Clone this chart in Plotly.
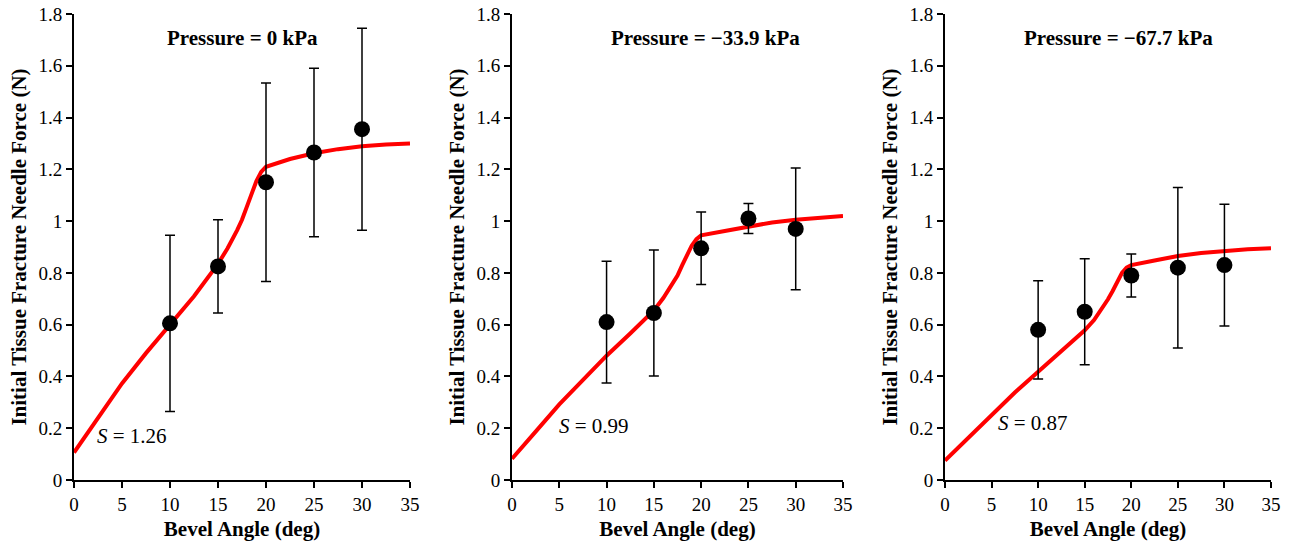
import plotly.graph_objects as go
from plotly.subplots import make_subplots

# measured points (mean +/- sd) per panel
bevel = [10, 15, 20, 25, 30]

force_0 = [0.605, 0.825, 1.15, 1.265, 1.355]
err_0 = [0.34, 0.18, 0.383, 0.325, 0.39]

force_339 = [0.61, 0.645, 0.895, 1.01, 0.97]
err_339 = [0.235, 0.243, 0.14, 0.058, 0.235]

force_677 = [0.58, 0.65, 0.79, 0.82, 0.83]
err_677 = [0.19, 0.205, 0.083, 0.31, 0.235]

# model curves
model_x = [0, 1, 2.5, 5, 7.5, 10, 12.5, 15, 16, 17, 17.5, 18, 18.5, 19, 19.5, 20,
           22.5, 25, 27.5, 30, 32.5, 35]
model_0 = [0.106, 0.16, 0.24, 0.373, 0.49, 0.60, 0.71, 0.835, 0.895, 0.965, 1.005, 1.055, 1.105,
           1.155, 1.19, 1.21, 1.24, 1.262, 1.278, 1.289, 1.296, 1.30]
model_339 = [0.082, 0.122, 0.187, 0.292, 0.387, 0.48, 0.566, 0.655, 0.703, 0.758, 0.79, 0.83, 0.868,
             0.905, 0.93, 0.945, 0.962, 0.98, 0.995, 1.005, 1.013, 1.02]
model_677 = [0.075, 0.11, 0.165, 0.255, 0.338, 0.418, 0.498, 0.578, 0.618, 0.668, 0.698, 0.73, 0.765,
             0.80, 0.82, 0.83, 0.848, 0.865, 0.877, 0.885, 0.891, 0.895]

titles = ["Pressure = 0 kPa", "Pressure = \u221233.9 kPa", "Pressure = \u221267.7 kPa"]
s_labels = ["<i>S</i> = 1.26", "<i>S</i> = 0.99", "<i>S</i> = 0.87"]
s_pos = [(2.2, 0.17), (4.8, 0.21), (5.5, 0.22)]
title_x = [17.6, 20.5, 18.6]

panels = [
    (force_0, err_0, model_0),
    (force_339, err_339, model_339),
    (force_677, err_677, model_677),
]

W = 1291
x_domains = [(74 / W, 410 / W), (512 / W, 843 / W), (945 / W, 1271 / W)]

font = "Liberation Serif, Times New Roman, serif"

fig = make_subplots(rows=1, cols=3)

for i, (force, err, model) in enumerate(panels):
    col = i + 1
    fig.add_trace(
        go.Scatter(
            x=model_x, y=model, mode="lines", line=dict(color="#ff0000", width=4),
            showlegend=False,
        ),
        row=1, col=col,
    )
    fig.add_trace(
        go.Scatter(
            x=bevel, y=force, mode="markers",
            marker=dict(color="black", size=16),
            error_y=dict(type="data", array=err, color="black", thickness=1.5, width=5),
            showlegend=False,
        ),
        row=1, col=col,
    )
    xa = "x" if i == 0 else f"x{col}"
    ya = "y" if i == 0 else f"y{col}"
    fig.add_annotation(
        x=title_x[i], y=1.707, xref=xa, yref=ya, text=f"<b>{titles[i]}</b>",
        showarrow=False, font=dict(family=font, size=21, color="black"),
    )
    fig.add_annotation(
        x=s_pos[i][0], y=s_pos[i][1], xref=xa, yref=ya, text=s_labels[i],
        showarrow=False, xanchor="left", font=dict(family=font, size=21, color="black"),
    )
    fig.update_xaxes(
        domain=x_domains[i], range=[0, 35], tickvals=[0, 5, 10, 15, 20, 25, 30, 35],
        showline=True, linecolor="black", linewidth=2, ticks="outside", ticklen=6,
        tickcolor="black", tickwidth=1.5, showgrid=False, zeroline=False, automargin=False,
        title=dict(text="<b>Bevel Angle (deg)</b>", font=dict(family=font, size=21), standoff=8),
        tickfont=dict(family=font, size=19, color="black"),
        row=1, col=col,
    )
    fig.update_yaxes(
        range=[0, 1.8], tickvals=[0, 0.2, 0.4, 0.6, 0.8, 1, 1.2, 1.4, 1.6, 1.8],
        ticktext=["0", "0.2", "0.4", "0.6", "0.8", "1", "1.2", "1.4", "1.6", "1.8"],
        showline=True, linecolor="black", linewidth=2, ticks="outside", ticklen=6,
        tickcolor="black", tickwidth=1.5, showgrid=False, zeroline=False, automargin=False,
        ticklabeloverflow="allow",
        title=dict(text="<b>Initial Tissue Fracture Needle Force (N)</b>",
                   font=dict(family=font, size=21), standoff=6),
        tickfont=dict(family=font, size=19, color="black"),
        row=1, col=col,
    )

fig.update_layout(
    width=1291, height=550,
    margin=dict(l=0, r=0, t=14, b=70),
    plot_bgcolor="white", paper_bgcolor="white",
    font=dict(family=font, color="black"),
)

# drop the default page margin so the figure sits flush with the window
fig.write_html(
    "out.html",
    config={"displayModeBar": False},
    post_script="document.body.style.margin = '0';",
)
